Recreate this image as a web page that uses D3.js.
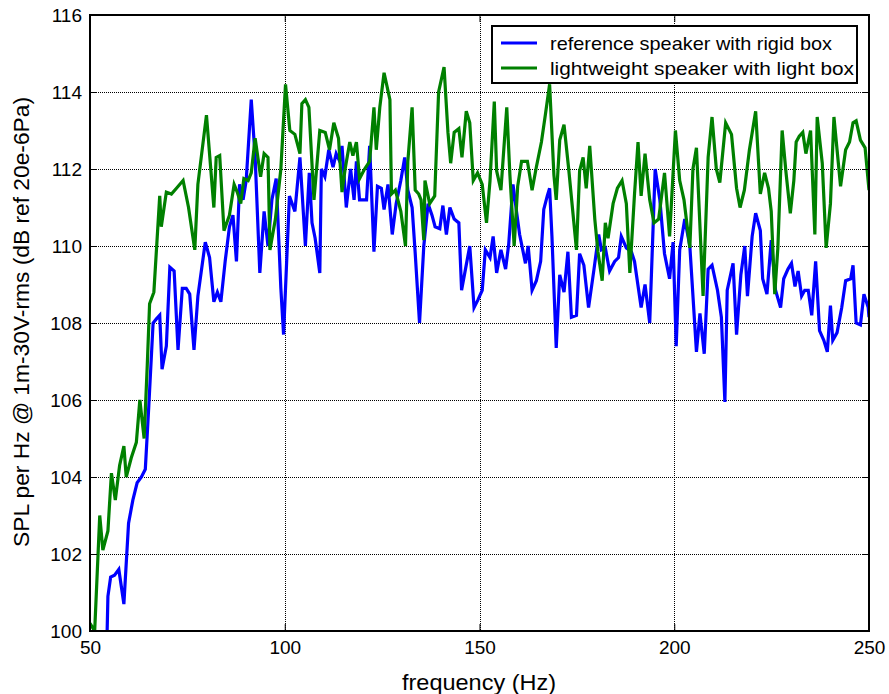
<!DOCTYPE html>
<html><head><meta charset="utf-8">
<script src="https://cdn.jsdelivr.net/npm/d3@7"></script>
<style>body{margin:0;background:#fff} text{font-family:"Liberation Sans",Arial,Helvetica,sans-serif;fill:#000}</style>
</head><body><svg id="c" width="889" height="694"></svg>
<script>
const freqRef = [54.4,54.6,55.3,56.3,57.4,58.7,59.9,61,62.1,63.2,64.2,65.1,66.2,67,67.9,68.5,69.6,70.5,71.6,72.6,73.7,74.7,75.6,76.7,77.7,79.6,80.7,81.8,82.7,83.6,84.7,85.8,86.7,87.6,88.4,89.3,90.1,91.4,92.4,93.6,94.7,95.7,96.7,97.8,99,99.7,101.2,102.6,103.9,105.3,106.3,107,107.8,109,109.4,110.3,111.3,112.4,113.2,114.1,114.7,115.8,116.9,117.8,118.4,119.2,120.1,121,121.8,122.9,123.8,124.8,125.5,126.5,127.6,128.6,129.8,130.8,131.6,132.7,133.5,134.6,135.7,136.8,137.8,138.6,139.8,140.6,141.5,142.4,143.5,144.7,145.4,146.4,147.5,148.6,149.6,150.7,151.5,152.7,153.5,154.4,155.5,156.7,157.5,158.6,159.5,160.3,161.8,162.5,163.5,164.6,165.7,166.5,167.4,168,168.6,169.7,170.6,171.7,172.7,173.6,174.9,175.7,176.8,178,179.4,180.6,181.3,182.3,183.4,184.7,185.7,186.4,187.7,189,189.8,191.5,192.5,193.7,195.1,196.3,197.5,198.8,199.7,200.5,201.4,202.7,204,205.7,206.6,207.7,208.7,209.7,211.1,212.1,213,213.6,215.1,216,217.1,218.1,218.8,220,220.9,222.1,222.7,223.8,224.9,226,227.3,228.1,229.2,230.1,231,231.8,232.7,233.5,234.4,235.3,236.3,237.3,238.4,239.3,240.1,240.7,241.8,243,244,245.3,245.9,246.7,247.8,248.7,249.8,250];
const splRef = [100.0,100.9,101.4,101.45,101.6,100.7,102.8,103.4,103.85,104.0,104.2,105.85,108.0,108.1,108.2,106.8,107.4,109.45,109.35,107.3,108.9,108.9,108.75,107.3,108.7,110.1,109.7,108.55,108.8,108.55,109.6,110.5,110.8,109.6,111.6,111.2,111.7,113.8,112.3,109.3,110.9,110.0,111.2,111.75,108.9,107.7,111.3,110.9,112.3,110.0,111.9,110.6,110.2,109.3,112.0,111.8,112.5,112.05,112.4,112.2,112.6,111.0,112.0,111.2,112.2,111.2,111.2,111.2,112.6,109.85,111.55,111.5,110.95,111.6,110.3,111.1,111.7,112.3,111.45,111.0,109.8,108.0,110.0,111.1,110.8,110.5,110.45,111.05,110.3,111.0,110.7,110.6,108.85,109.4,110.0,108.4,108.6,108.85,109.9,109.7,110.25,109.3,109.9,109.4,110.05,111.6,110.9,110.3,109.55,110.0,108.85,109.1,109.6,110.95,111.3,111.5,110.25,107.35,109.25,108.8,109.85,108.15,108.2,109.8,109.5,108.4,109.4,110.3,109.9,109.95,109.35,109.6,109.7,110.25,109.95,109.85,109.6,108.4,109.0,108.0,112.0,111.2,109.8,109.15,110.1,107.4,109.9,110.7,110.0,107.25,108.25,107.2,109.4,109.5,108.85,108.15,105.95,108.85,109.55,107.7,109.25,110.0,108.7,110.25,110.85,110.4,109.15,108.75,110.15,108.85,108.4,109.15,109.4,109.55,108.95,109.35,108.7,108.85,108.85,108.2,109.6,107.8,107.55,107.25,108.45,107.55,107.75,108.4,109.1,109.15,109.5,108.0,107.95,108.75,108.4,108.15];
const freqLight = [50,51.2,52.5,53.3,54.6,55.5,56.5,57.6,58.7,59.3,60.6,61.9,62.8,63.9,64.7,65.3,66.4,67.9,68.3,69.6,70.9,72.2,73.9,75.3,76.9,77.7,79.9,81.8,82.4,83.3,84.4,85.8,87,87.8,88.7,89.5,90.6,91.4,92.4,93.8,94.7,95.7,96.2,97.6,99,100.2,101.3,102.6,103.9,104.4,105.3,106.2,107.5,109,110.4,111.5,112.6,113.8,114.7,115.5,116.7,117.5,118.4,119.2,120.5,121.8,122.9,123.5,124.4,125.5,127,127.4,128.4,129.8,131,131.6,132.7,133.5,134.4,135,135.7,136,137.2,138.5,139.5,140.9,141.9,142.6,143.5,144.7,145.5,146.6,147.5,148.4,149.5,150.7,151.8,152.7,153.8,154.4,155.5,157,157.8,158.9,159.8,160.8,162.3,163.5,164.6,165.9,166.9,168,169.1,169.7,170.6,171.7,172.9,174.9,175.7,176.6,177.4,178.3,179.6,180.4,181.5,182.3,183,184.3,185.4,186.6,187.7,188.6,189.8,190.7,191.5,192.5,193.7,194.8,196,197.5,198.8,200.3,201.4,202.5,204,204.8,205.7,207.4,208.7,209.7,210.8,211.7,213.2,214.7,216,216.9,218,219.3,220.9,222.1,223.2,224.2,224.9,225.8,226.6,227.7,228.7,229.8,230.7,231.3,232.1,233,233.8,235,236.1,236.7,238,239,240.1,241,241.8,242.7,244,245,245.9,246.7,247.8,249,250];
const splLight = [100.2,100.0,103.0,102.1,102.6,104.1,103.4,104.3,104.8,104.0,104.5,104.9,106.0,105.0,106.9,108.5,108.8,111.3,110.5,111.4,111.35,111.5,111.7,111.0,109.9,111.6,113.4,111.0,112.3,112.35,110.4,110.8,111.6,111.4,111.1,111.75,111.7,111.9,112.8,111.8,112.4,112.3,109.9,110.7,112.0,114.2,113.0,112.9,112.4,113.7,113.8,113.6,111.2,113.0,112.95,112.5,113.2,112.8,111.4,112.0,112.7,112.35,112.7,111.75,112.0,112.2,113.6,112.5,113.6,114.5,113.8,111.35,111.45,110.9,110.0,112.2,113.6,111.45,111.35,111.2,110.15,111.7,111.1,111.3,114.0,114.65,112.95,112.15,112.95,113.05,112.3,113.5,113.2,111.7,111.9,111.6,110.6,111.7,113.75,111.95,111.45,113.6,111.85,110.0,111.55,112.2,112.2,111.45,112.05,112.7,113.4,114.2,111.85,111.2,112.75,113.15,112.0,109.9,111.95,112.3,111.5,112.6,110.7,109.85,109.1,110.6,110.2,111.1,111.5,111.7,111.1,109.3,111.35,112.7,111.3,112.4,111.2,110.6,110.7,111.9,110.25,113.0,111.7,111.2,109.95,112.0,112.55,108.7,112.3,113.35,112.0,111.65,113.2,112.9,111.5,111.0,111.45,112.5,113.5,111.35,111.9,111.5,110.9,108.75,109.95,113.0,111.9,110.85,111.7,112.7,112.85,112.95,112.4,113.0,110.3,113.35,112.15,109.95,111.1,113.35,112.5,111.55,112.5,112.7,113.2,113.25,112.75,112.55,111.45];
const xTicks = [50, 100, 150, 200, 250];
const yTicks = [100, 102, 104, 106, 108, 110, 112, 114, 116];
const seriesNames = ["reference speaker with rigid box", "lightweight speaker with light box"];
const seriesColors = ["#0000ff", "#008000"];
const xTitle = "frequency (Hz)";
const yTitle = "SPL per Hz @ 1m-30V-rms (dB ref 20e-6Pa)";

const m = {left: 90, right: 869, top: 15, bottom: 631};
const svg = d3.select("#c");
const x = d3.scaleLinear().domain([50, 250]).range([m.left, m.right]);
const y = d3.scaleLinear().domain([100, 116]).range([m.bottom, m.top]);
const px = v => Math.round(v) + 0.5;

// grid
const g = svg.append("g");
g.selectAll("line.gx").data(xTicks.slice(1, -1)).join("line").attr("class", "gx")
  .attr("x1", d => px(x(d))).attr("x2", d => px(x(d))).attr("y1", m.top).attr("y2", m.bottom)
  .attr("stroke", "#000").attr("stroke-width", 1).attr("stroke-dasharray", "1,1");
g.selectAll("line.gy").data(yTicks.slice(1, -1)).join("line").attr("class", "gy")
  .attr("y1", d => px(y(d))).attr("y2", d => px(y(d))).attr("x1", m.left).attr("x2", m.right)
  .attr("stroke", "#000").attr("stroke-width", 1).attr("stroke-dasharray", "1,1");

// clip
svg.append("clipPath").attr("id", "clip").append("rect")
  .attr("x", m.left).attr("y", m.top).attr("width", m.right - m.left).attr("height", m.bottom - m.top);

const line = d3.line().x(d => x(d[0])).y(d => y(d[1]));
const dataRef = freqRef.map((f, i) => [f, splRef[i]]);
const dataLight = freqLight.map((f, i) => [f, splLight[i]]);
const lg = svg.append("g").attr("clip-path", "url(#clip)");
lg.append("path").datum(dataRef).attr("d", line).attr("fill", "none")
  .attr("stroke", seriesColors[0]).attr("stroke-width", 3.2);
lg.append("path").datum(dataLight).attr("d", line).attr("fill", "none")
  .attr("stroke", seriesColors[1]).attr("stroke-width", 3.2);

// axes with inward ticks
const tl = 7;
const axB = d3.axisBottom(x).tickValues(xTicks).tickSizeInner(-tl).tickSizeOuter(0).tickPadding(10).tickFormat(d3.format("d"));
const axT = d3.axisTop(x).tickValues(xTicks).tickSizeInner(-tl).tickSizeOuter(0).tickFormat("");
const axL = d3.axisLeft(y).tickValues(yTicks).tickSizeInner(-tl).tickSizeOuter(0).tickPadding(8).tickFormat(d3.format("d"));
const axR = d3.axisRight(y).tickValues(yTicks).tickSizeInner(-tl).tickSizeOuter(0).tickFormat("");
function style(sel) {
  sel.select(".domain").remove();
  sel.selectAll("line").attr("stroke", "#000").attr("stroke-width", 1);
  sel.selectAll("text").style("font-size", "19px").attr("fill", "#000");
}
svg.append("g").attr("transform", `translate(0,${m.bottom})`).call(axB).call(style);
svg.append("g").attr("transform", `translate(0,${m.top})`).call(axT).call(style);
svg.append("g").attr("transform", `translate(${m.left},0)`).call(axL).call(style);
svg.append("g").attr("transform", `translate(${m.right},0)`).call(axR).call(style);

// frame
svg.append("rect").attr("x", m.left).attr("y", m.top)
  .attr("width", m.right - m.left).attr("height", m.bottom - m.top)
  .attr("fill", "none").attr("stroke", "#000").attr("stroke-width", 2);

// titles
svg.append("text").attr("x", 479).attr("y", 690).attr("text-anchor", "middle")
  .style("font-size", "22px").attr("textLength", 154).attr("lengthAdjust", "spacingAndGlyphs").text(xTitle);
svg.append("text").attr("transform", `translate(29,322) rotate(-90)`).attr("text-anchor", "middle")
  .style("font-size", "22px").attr("textLength", 450).attr("lengthAdjust", "spacingAndGlyphs").text(yTitle);

// legend
svg.append("rect").attr("x", 492).attr("y", 26).attr("width", 365).attr("height", 57)
  .attr("fill", "#fff").attr("stroke", "#000").attr("stroke-width", 2);
seriesNames.forEach((n, i) => {
  const yy = 43 + i * 25;
  svg.append("line").attr("x1", 501).attr("x2", 537).attr("y1", yy).attr("y2", yy)
    .attr("stroke", seriesColors[i]).attr("stroke-width", 3.2);
  svg.append("text").attr("x", 550).attr("y", yy).attr("dy", "0.35em")
    .style("font-size", "19px").attr("textLength", i === 0 ? 282 : 304).attr("lengthAdjust", "spacingAndGlyphs").text(n);
});
</script></body></html>
